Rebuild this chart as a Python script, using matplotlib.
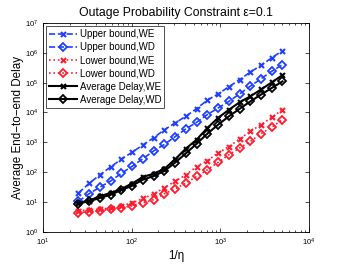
import numpy as np
import matplotlib
matplotlib.use("Agg")
import matplotlib.pyplot as plt
from matplotlib.ticker import LogLocator, NullLocator, NullFormatter

plt.rcParams['font.family'] = ['Liberation Sans', 'DejaVu Sans']
plt.rcParams['mathtext.fontset'] = 'custom'
plt.rcParams['mathtext.rm'] = 'Liberation Sans'

# 1/eta values
inv_eta = [25, 33, 44, 58, 76, 101, 133, 176, 233, 308, 407, 538, 711, 940,
           1242, 1641, 2169, 2867, 3789, 5000]

upper_we = [20, 42, 83, 151, 269, 468, 813, 1410, 2630, 4470, 7410, 13500,
            25700, 41700, 72400, 126000, 224000, 380000, 676000, 1175000]
upper_wd = [10.5, 19, 32, 51, 91, 158, 282, 513, 851, 1550, 2820, 4680, 8510,
            14100, 23400, 41700, 75900, 135000, 240000, 398000]
lower_we = [5.2, 5.5, 5.8, 6.3, 7.6, 9.3, 13.2, 18.6, 30, 50, 81, 155, 245,
            437, 724, 1290, 2340, 3890, 6920, 12300]
lower_wd = [4.4, 4.8, 5.1, 5.8, 6.3, 7.6, 9.3, 12, 19, 28, 43, 72, 120, 214,
            380, 646, 1070, 1950, 3240, 5750]
avg_we = [9.3, 11.2, 15.8, 20.4, 27.5, 41.7, 69, 89, 129, 269, 617, 1230,
          3020, 6610, 12300, 21900, 34700, 58900, 102000, 178000]
avg_wd = [8.9, 10.7, 13.8, 17.8, 25.1, 35.5, 56, 74, 110, 209, 427, 891, 1950,
          3890, 7410, 13200, 23400, 39800, 66100, 110000]

blue = '#1f3fff'
red = '#ff1a2e'

fig = plt.figure(figsize=(3.39, 2.66), dpi=100)
ax = fig.add_axes([0.127, 0.128, 0.785, 0.786])

ax.loglog(inv_eta, upper_we, '--x', color=blue, lw=1.2, ms=3.6, mew=1.5,
          label='Upper bound,WE')
ax.loglog(inv_eta, upper_wd, '--D', color=blue, lw=1.2, ms=4, mew=1.3,
          mfc='none', label='Upper bound,WD')
ax.loglog(inv_eta, lower_we, ':x', color=red, lw=1.2, ms=3.6, mew=1.5,
          label='Lower bound,WE')
ax.loglog(inv_eta, lower_wd, ':D', color=red, lw=1.2, ms=4, mew=1.3,
          mfc='none', label='Lower bound,WD')
ax.loglog(inv_eta, avg_we, '-x', color='black', lw=1.5, ms=3.6, mew=1.5,
          label='Average Delay,WE')
ax.loglog(inv_eta, avg_wd, '-D', color='black', lw=1.5, ms=4, mew=1.3,
          mfc='none', label='Average Delay,WD')

ax.set_xlim(10, 1e4)
ax.set_ylim(1, 1e7)
ax.xaxis.set_major_locator(LogLocator(base=10, numticks=10))
ax.xaxis.set_minor_locator(LogLocator(base=10, subs=np.arange(2, 10), numticks=20))
ax.xaxis.set_minor_formatter(NullFormatter())
ax.yaxis.set_major_locator(LogLocator(base=10, numticks=10))
ax.yaxis.set_minor_locator(NullLocator())
ax.tick_params(which='both', direction='in', top=True, right=True,
               labelsize=5.5, width=0.5)
ax.tick_params(which='major', length=3)
ax.tick_params(which='minor', length=1.5)
for s in ax.spines.values():
    s.set_linewidth(0.6)

ax.set_xlabel('1/η', fontsize=8.4, labelpad=1)
ax.set_ylabel('Average End−to−end Delay', fontsize=8.4, labelpad=0.5)
ax.set_title('Outage Probability Constraint ε=0.1', fontsize=8.8, pad=5)

leg = ax.legend(loc='upper left', fontsize=7, handlelength=2.8,
                borderaxespad=0.35, labelspacing=0.32, handletextpad=0.3,
                fancybox=False, edgecolor='black', borderpad=0.3)
leg.get_frame().set_linewidth(0.6)

fig.savefig('out.png', dpi=100)
